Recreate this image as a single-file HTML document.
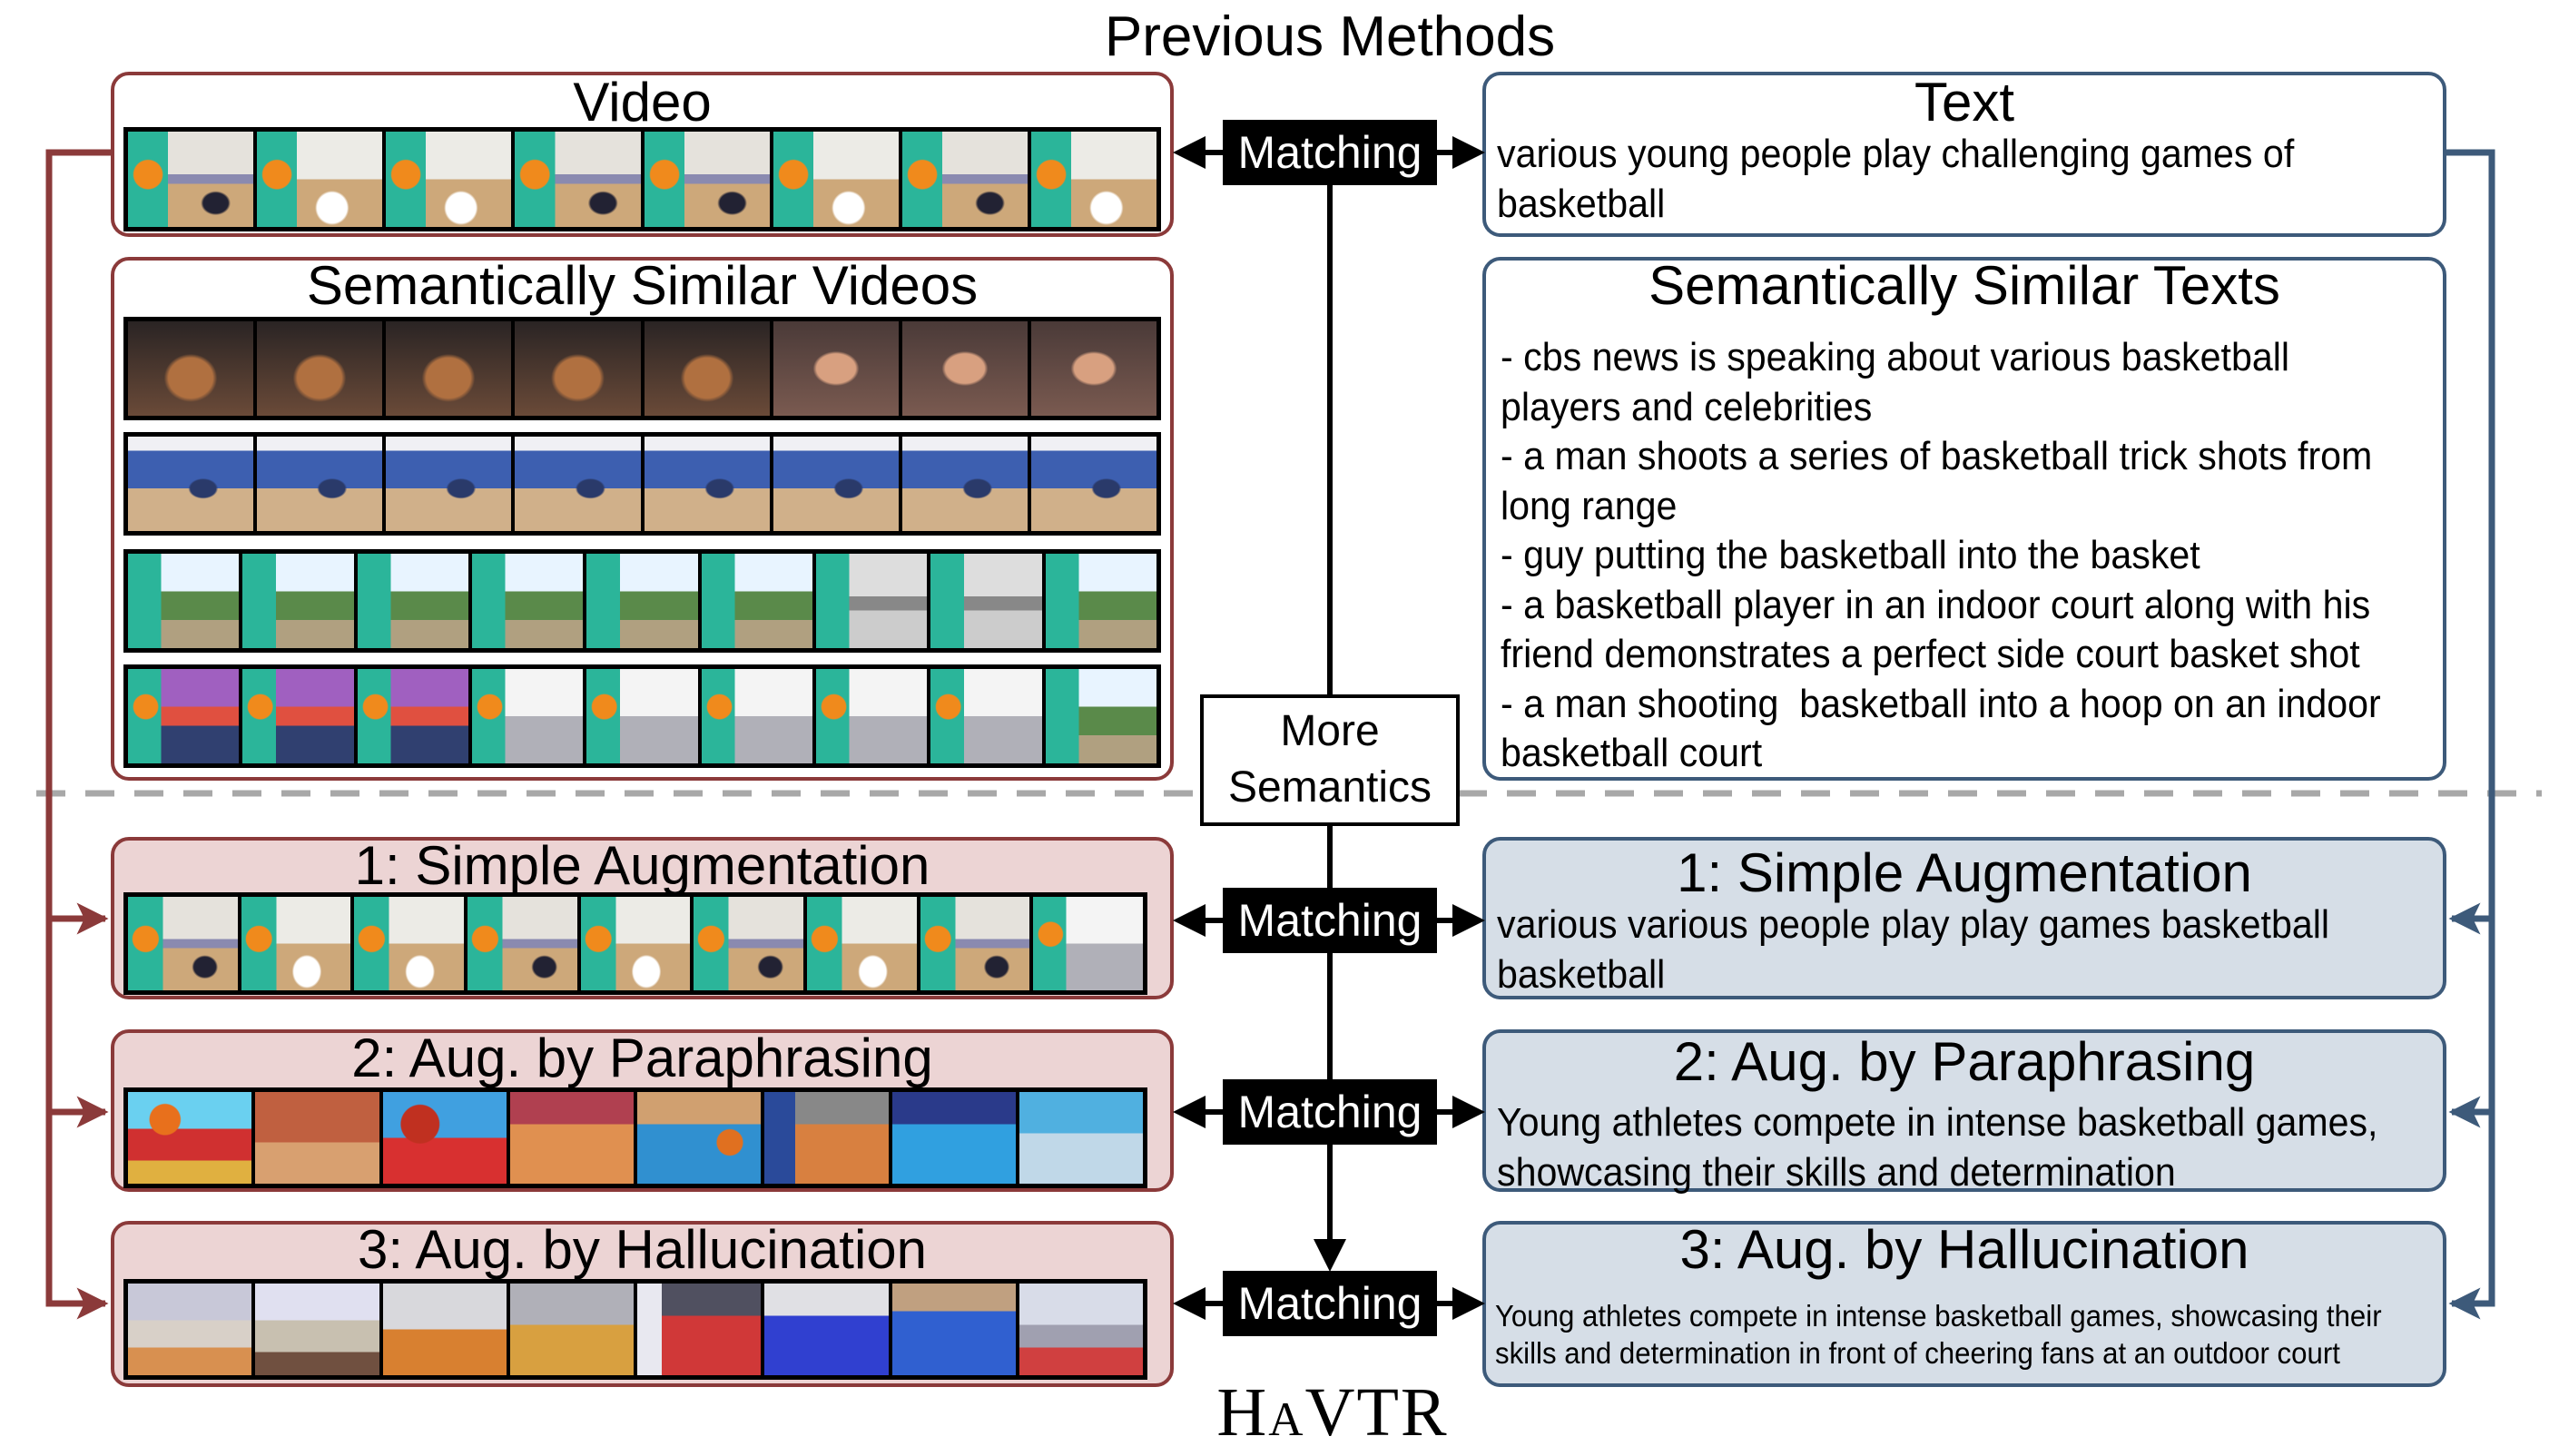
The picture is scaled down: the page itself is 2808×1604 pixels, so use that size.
<!DOCTYPE html>
<html><head><meta charset="utf-8">
<style>
*{margin:0;padding:0;box-sizing:border-box}
body{width:2808px;height:1604px;background:#fff;position:relative;overflow:hidden;font-family:"Liberation Sans Narrow","Liberation Sans",sans-serif;color:#000}
.a{position:absolute}
.box{position:absolute;border-radius:20px;border:4px solid}
.red{border-color:#8b3a3a}
.blu{border-color:#3d5a7a}
.pk{background:#ecd4d4}
.lb{background:#d6dee7}
.ttl{position:absolute;left:0;right:0;text-align:center;font-size:60px;line-height:60px}
.txt{position:absolute;font-size:44px;line-height:54.5px;white-space:nowrap;transform:scaleX(0.935);transform-origin:0 0}
.m{position:absolute;background:#000;color:#fff;font-size:50px;text-align:center;line-height:72px;width:236px;height:72px;left:1347px}
.strip{position:absolute;left:136px;width:1143px;background:#000;border:5px solid #000;display:flex;gap:4px}
.strip div{flex:1;height:100%}
.v{background:radial-gradient(circle at 16% 45%,#f08a1c 0 12%,transparent 13%),linear-gradient(90deg,#2bb59a 0 32%,transparent 32%),radial-gradient(ellipse at 70% 75%,#223 0 10%,transparent 12%),linear-gradient(180deg,#e5e2dc 0 45%,#8a8ab0 45% 55%,#cda87a 55%)}
.v2{background:radial-gradient(circle at 16% 45%,#f08a1c 0 12%,transparent 13%),linear-gradient(90deg,#2bb59a 0 32%,transparent 32%),radial-gradient(ellipse at 60% 80%,#fff 0 14%,transparent 16%),linear-gradient(180deg,#ecebe6 0 50%,#cda87a 50%)}
.d1{background:radial-gradient(ellipse at 50% 60%,#b07040 0 25%,transparent 30%),linear-gradient(180deg,#2a2424,#6a4a38)}
.d2{background:radial-gradient(ellipse at 50% 50%,#d8a080 0 22%,transparent 26%),linear-gradient(180deg,#4a3a38,#7a5a50)}
.g1{background:radial-gradient(ellipse at 60% 55%,#2a3a6a 0 12%,transparent 14%),linear-gradient(180deg,#f0f0f4 0 15%,#3d5fb0 15% 55%,#d0b08a 55%)}
.t1{background:linear-gradient(90deg,#2bb59a 0 30%,transparent 30%),linear-gradient(180deg,#e8f4ff 0 40%,#5a8a4a 40% 70%,#b0a080 70%)}
.t2{background:linear-gradient(90deg,#2bb59a 0 30%,transparent 30%),linear-gradient(180deg,#ddd 0 45%,#888 45% 60%,#ccc 60%)}
.t3{background:radial-gradient(circle at 16% 40%,#f08a1c 0 11%,transparent 12%),linear-gradient(90deg,#2bb59a 0 30%,transparent 30%),linear-gradient(180deg,#a060c0 0 40%,#e05040 40% 60%,#304070 60%)}
.t4{background:radial-gradient(circle at 16% 40%,#f08a1c 0 11%,transparent 12%),linear-gradient(90deg,#2bb59a 0 30%,transparent 30%),linear-gradient(180deg,#f4f4f4 0 50%,#b0b0b8 50%)}
.c1{background:radial-gradient(circle at 30% 30%,#e8701c 0 14%,transparent 15%),linear-gradient(180deg,#6ad0f0 0 40%,#d03030 40% 75%,#e0b040 75%)}
.c2{background:linear-gradient(180deg,#c06040 0 55%,#d8a070 55%)}
.c3{background:radial-gradient(circle at 30% 35%,#c03020 0 18%,transparent 19%),linear-gradient(180deg,#40a0e0 0 50%,#d83030 50%)}
.c4{background:linear-gradient(180deg,#b04050 0 35%,#e09050 35%)}
.c5{background:radial-gradient(circle at 75% 55%,#e07020 0 12%,transparent 13%),linear-gradient(180deg,#d0a070 0 35%,#3090d0 35%)}
.c6{background:linear-gradient(90deg,#2a4a9a 0 25%,transparent 25%),linear-gradient(180deg,#888 0 35%,#d88040 35%)}
.c7{background:linear-gradient(180deg,#2a3a8a 0 35%,#30a0e0 35%)}
.c8{background:linear-gradient(180deg,#50b0e0 0 45%,#c0d8e8 45%)}
.p1{background:linear-gradient(180deg,#c8c8d8 0 40%,#d8d0c8 40% 70%,#d89050 70%)}
.p2{background:linear-gradient(180deg,#e0e0f0 0 40%,#c8c0b0 40% 75%,#705040 75%)}
.p3{background:linear-gradient(180deg,#d8d8dc 0 50%,#d88030 50%)}
.p4{background:linear-gradient(180deg,#b0b0b8 0 45%,#d8a040 45%)}
.p5{background:linear-gradient(90deg,#e8e8f0 0 20%,transparent 20%),linear-gradient(180deg,#505060 0 35%,#d03838 35%)}
.p6{background:linear-gradient(180deg,#e0e0e4 0 35%,#3040d0 35%)}
.p7{background:linear-gradient(180deg,#c0a080 0 30%,#3060d0 30%)}
.p8{background:linear-gradient(180deg,#d8dce8 0 45%,#a0a0b0 45% 70%,#d04040 70%)}
</style></head><body>

<div class="a" style="left:1195px;width:540px;top:10px;text-align:center;font-size:62px;line-height:62px">Previous Methods</div>

<!-- top left -->
<div class="box red" style="left:122px;top:79px;width:1171px;height:182px"><div class="ttl" style="top:0px">Video</div></div>
<div class="strip" style="top:140px;height:115px"><div class="v"></div><div class="v2"></div><div class="v2"></div><div class="v"></div><div class="v"></div><div class="v2"></div><div class="v"></div><div class="v2"></div></div>

<div class="box red" style="left:122px;top:283px;width:1171px;height:577px"><div class="ttl" style="top:-2px">Semantically Similar Videos</div></div>
<div class="strip" style="top:349px;height:114px"><div class="d1"></div><div class="d1"></div><div class="d1"></div><div class="d1"></div><div class="d1"></div><div class="d2"></div><div class="d2"></div><div class="d2"></div></div>
<div class="strip" style="top:476px;height:114px"><div class="g1"></div><div class="g1"></div><div class="g1"></div><div class="g1"></div><div class="g1"></div><div class="g1"></div><div class="g1"></div><div class="g1"></div></div>
<div class="strip" style="top:605px;height:114px"><div class="t1"></div><div class="t1"></div><div class="t1"></div><div class="t1"></div><div class="t1"></div><div class="t1"></div><div class="t2"></div><div class="t2"></div><div class="t1"></div></div>
<div class="strip" style="top:732px;height:114px"><div class="t3"></div><div class="t3"></div><div class="t3"></div><div class="t4"></div><div class="t4"></div><div class="t4"></div><div class="t4"></div><div class="t4"></div><div class="t1"></div></div>

<!-- top right -->
<div class="box blu" style="left:1633px;top:79px;width:1062px;height:182px"><div class="ttl" style="top:0px">Text</div>
<div class="txt" style="left:12px;top:60px">various young people play challenging games of<br>basketball</div></div>

<div class="box blu" style="left:1633px;top:283px;width:1062px;height:577px"><div class="ttl" style="top:-2px">Semantically Similar Texts</div>
<div class="txt" style="left:16px;top:80px">- cbs news is speaking about various basketball<br>players and celebrities<br>- a man shoots a series of basketball trick shots from<br>long range<br>- guy putting the basketball into the basket<br>- a basketball player in an indoor court along with his<br>friend demonstrates a perfect side court basket shot<br>- a man shooting&nbsp; basketball into a hoop on an indoor<br>basketball court</div></div>

<!-- dashed line -->
<svg class="a" style="left:0;top:0" width="2808" height="1604">
<line x1="40" y1="874" x2="2800" y2="874" stroke="#a8a8a8" stroke-width="7" stroke-dasharray="32,22"/>
</svg>

<!-- bottom left -->
<div class="box red pk" style="left:122px;top:922px;width:1171px;height:179px"><div class="ttl" style="top:-2px">1: Simple Augmentation</div></div>
<div class="strip" style="top:983px;height:113px;width:1128px"><div class="v"></div><div class="v2"></div><div class="v2"></div><div class="v"></div><div class="v2"></div><div class="v"></div><div class="v2"></div><div class="v"></div><div class="t4"></div></div>
<div class="box red pk" style="left:122px;top:1134px;width:1171px;height:179px"><div class="ttl" style="top:-2px">2: Aug. by Paraphrasing</div></div>
<div class="strip" style="top:1198px;height:111px;width:1128px"><div class="c1"></div><div class="c2"></div><div class="c3"></div><div class="c4"></div><div class="c5"></div><div class="c6"></div><div class="c7"></div><div class="c8"></div></div>
<div class="box red pk" style="left:122px;top:1345px;width:1171px;height:183px"><div class="ttl" style="top:-2px">3: Aug. by Hallucination</div></div>
<div class="strip" style="top:1409px;height:111px;width:1128px"><div class="p1"></div><div class="p2"></div><div class="p3"></div><div class="p4"></div><div class="p5"></div><div class="p6"></div><div class="p7"></div><div class="p8"></div></div>

<!-- bottom right -->
<div class="box blu lb" style="left:1633px;top:922px;width:1062px;height:179px"><div class="ttl" style="top:6px">1: Simple Augmentation</div>
<div class="txt" style="left:12px;top:66px">various various people play play games basketball<br>basketball</div></div>
<div class="box blu lb" style="left:1633px;top:1134px;width:1062px;height:179px"><div class="ttl" style="top:2px">2: Aug. by Paraphrasing</div>
<div class="txt" style="left:12px;top:72px">Young athletes compete in intense basketball games,<br>showcasing their skills and determination</div></div>
<div class="box blu lb" style="left:1633px;top:1345px;width:1062px;height:183px"><div class="ttl" style="top:-2px">3: Aug. by Hallucination</div>
<div class="txt" style="left:10px;top:80px;font-size:33px;line-height:41px;transform:scaleX(0.945)">Young athletes compete in intense basketball games, showcasing their<br>skills and determination in front of cheering fans at an outdoor court</div></div>

<!-- connectors -->
<svg class="a" style="left:0;top:0" width="2808" height="1604">
<defs>
<marker id="ak" markerWidth="6" markerHeight="6" refX="5" refY="3" orient="auto" markerUnits="strokeWidth"><path d="M0,0 L6,3 L0,6 z" fill="#000"/></marker>
<marker id="ar" markerWidth="5" markerHeight="5" refX="4.5" refY="2.5" orient="auto" markerUnits="strokeWidth"><path d="M0,0 L5,2.5 L0,5 L1.2,2.5 z" fill="#8b3a3a"/></marker>
<marker id="ab" markerWidth="5" markerHeight="5" refX="4.5" refY="2.5" orient="auto" markerUnits="strokeWidth"><path d="M0,0 L5,2.5 L0,5 L1.2,2.5 z" fill="#3d5a7a"/></marker>
</defs>
<g stroke="#000" stroke-width="6" fill="none">
<line x1="1465" y1="204" x2="1465" y2="765"/>
<line x1="1465" y1="910" x2="1465" y2="1395" marker-end="url(#ak)"/>
<line x1="1347" y1="168" x2="1298" y2="168" marker-end="url(#ak)"/>
<line x1="1583" y1="168" x2="1630" y2="168" marker-end="url(#ak)"/>
<line x1="1347" y1="1014" x2="1298" y2="1014" marker-end="url(#ak)"/>
<line x1="1583" y1="1014" x2="1630" y2="1014" marker-end="url(#ak)"/>
<line x1="1347" y1="1225" x2="1298" y2="1225" marker-end="url(#ak)"/>
<line x1="1583" y1="1225" x2="1630" y2="1225" marker-end="url(#ak)"/>
<line x1="1347" y1="1436" x2="1298" y2="1436" marker-end="url(#ak)"/>
<line x1="1583" y1="1436" x2="1630" y2="1436" marker-end="url(#ak)"/>
</g>
<g stroke="#8b3a3a" stroke-width="7" fill="none">
<polyline points="122,168 54,168 54,1436 116,1436" marker-end="url(#ar)"/>
<line x1="54" y1="1012" x2="116" y2="1012" marker-end="url(#ar)"/>
<line x1="54" y1="1225" x2="116" y2="1225" marker-end="url(#ar)"/>
</g>
<g stroke="#3d5a7a" stroke-width="7" fill="none">
<polyline points="2695,168 2745,168 2745,1436 2701,1436" marker-end="url(#ab)"/>
<line x1="2745" y1="1012" x2="2701" y2="1012" marker-end="url(#ab)"/>
<line x1="2745" y1="1225" x2="2701" y2="1225" marker-end="url(#ab)"/>
</g>
</svg>

<div class="m" style="top:132px">Matching</div>
<div class="m" style="top:978px">Matching</div>
<div class="m" style="top:1189px">Matching</div>
<div class="m" style="top:1400px">Matching</div>

<div class="a" style="left:1322px;top:765px;width:286px;height:145px;border:4px solid #000;background:#fff;text-align:center;font-size:48px;line-height:62px;padding-top:6px">More<br>Semantics</div>

<div class="a" style="left:1268px;top:1516px;width:400px;text-align:center;font-family:'Liberation Serif',serif;font-size:76px;line-height:80px;font-variant:small-caps;letter-spacing:2px">HaVTR</div>
</body></html>
